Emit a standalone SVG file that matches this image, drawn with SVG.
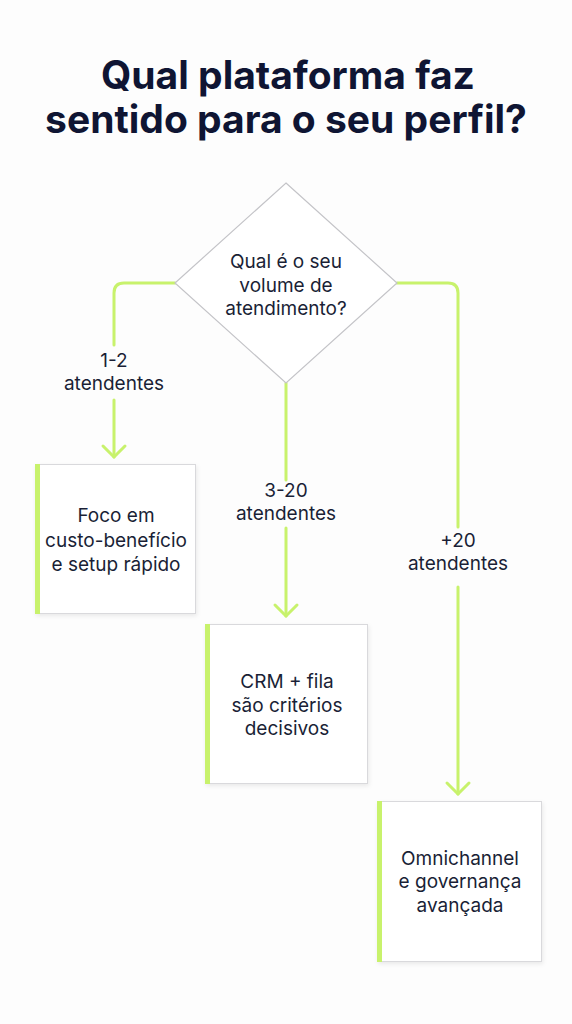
<svg xmlns="http://www.w3.org/2000/svg" width="572" height="1024" viewBox="0 0 572 1024">
<defs>
<style>
.title{font-family:Inter,"Liberation Sans",sans-serif;font-weight:700;font-size:39px;fill:#0f1533;text-anchor:middle}
.t{font-family:Inter,"Liberation Sans",sans-serif;font-size:19px;fill:#1a1f36;text-anchor:middle}
.conn{fill:none;stroke:#c8f26c;stroke-width:3;stroke-linecap:round;stroke-linejoin:round}
.box{fill:#ffffff;stroke:#d9d9dc;stroke-width:1}
.bar{fill:#c8f26c}
.dia{fill:#ffffff;stroke:#c4c4c8;stroke-width:1.2}
</style>
<filter id="sh" x="-10%" y="-10%" width="130%" height="130%">
<feDropShadow dx="1" dy="2" stdDeviation="2" flood-color="#000" flood-opacity="0.08"/>
</filter>
</defs>
<rect width="572" height="1024" fill="#fdfdfd"/>
<g id="title">
<text class="title" x="288" y="89">Qual plataforma faz</text>
<text class="title" x="286" y="133">sentido para o seu perfil?</text>
</g>
<g id="connectors">
<path class="conn" d="M175 283 H124 Q114 283 114 293 V345"/>
<path class="conn" d="M114 400 V457"/>
<path class="conn" d="M103 446 L114 457 L125 446"/>
<path class="conn" d="M286 383 V480"/>
<path class="conn" d="M286 528 V616"/>
<path class="conn" d="M275 605 L286 616 L297 605"/>
<path class="conn" d="M397 283 H448 Q458 283 458 293 V527"/>
<path class="conn" d="M458 587 V794"/>
<path class="conn" d="M447 783 L458 794 L469 783"/>
<text class="t" x="114" y="367">1-2</text>
<text class="t" x="114" y="390">atendentes</text>
<text class="t" x="286" y="497">3-20</text>
<text class="t" x="286" y="520">atendentes</text>
<text class="t" x="458" y="547">+20</text>
<text class="t" x="458" y="570">atendentes</text>
</g>
<g id="decision">
<polygon class="dia" points="286,183 397,283 286,383 175,283"/>
<text class="t" x="286" y="268">Qual é o seu</text>
<text class="t" x="286" y="292">volume de</text>
<text class="t" x="286" y="315">atendimento?</text>
</g>
<g id="box1">
<rect class="box" x="35.5" y="464.5" width="160" height="149" filter="url(#sh)"/>
<rect class="bar" x="35" y="464" width="5" height="150"/>
<text class="t" x="116" y="522">Foco em</text>
<text class="t" x="116" y="547">custo-benefício</text>
<text class="t" x="116" y="571">e setup rápido</text>
</g>
<g id="box2">
<rect class="box" x="205.5" y="624.5" width="162" height="159" filter="url(#sh)"/>
<rect class="bar" x="205" y="624" width="5" height="160"/>
<text class="t" x="287" y="688">CRM + fila</text>
<text class="t" x="287" y="712">são critérios</text>
<text class="t" x="287" y="735">decisivos</text>
</g>
<g id="box3">
<rect class="box" x="377.5" y="801.5" width="164" height="160" filter="url(#sh)"/>
<rect class="bar" x="377" y="801" width="5" height="161"/>
<text class="t" x="460" y="865">Omnichannel</text>
<text class="t" x="460" y="888">e governança</text>
<text class="t" x="460" y="912">avançada</text>
</g>
</svg>
